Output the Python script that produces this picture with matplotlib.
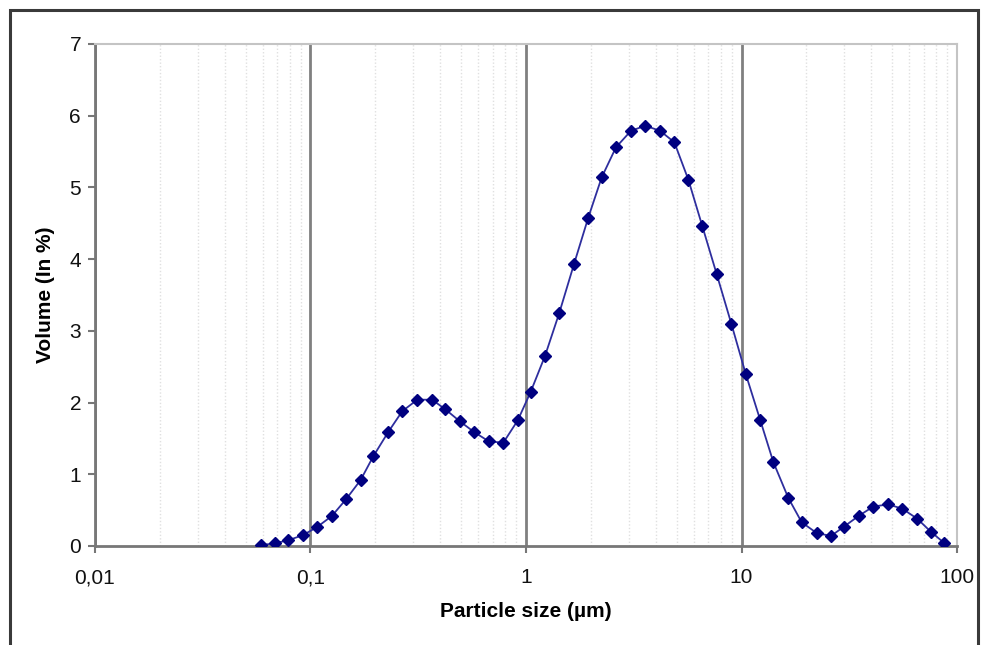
import matplotlib
matplotlib.use("Agg")
import matplotlib.pyplot as plt
from matplotlib.ticker import FixedLocator, FixedFormatter, LogLocator, NullFormatter
from matplotlib.patches import Rectangle

plt.rcParams['font.family'] = ['Liberation Sans', 'DejaVu Sans']

# particle size classes (um) and volume fraction (%)
size_um = [0.0587, 0.0687, 0.0789, 0.0920, 0.1069, 0.1258, 0.1461, 0.1709, 0.1956, 0.2296,
           0.2667, 0.3131, 0.3664, 0.4208, 0.4924, 0.5738, 0.6713, 0.7847, 0.9152, 1.0515,
           1.2252, 1.4272, 1.670, 1.946, 2.245, 2.616, 3.071, 3.578, 4.186, 4.878,
           5.664, 6.579, 7.672, 8.968, 10.46, 12.23, 14.05, 16.49, 19.03, 22.34,
           26.02, 29.89, 34.98, 40.89, 48.00, 55.73, 65.42, 75.51, 87.33]
volume_pct = [0.01, 0.04, 0.08, 0.15, 0.26, 0.42, 0.65, 0.92, 1.25, 1.59,
              1.88, 2.04, 2.04, 1.91, 1.74, 1.59, 1.46, 1.44, 1.75, 2.15,
              2.65, 3.25, 3.93, 4.58, 5.14, 5.56, 5.79, 5.86, 5.79, 5.63,
              5.11, 4.46, 3.79, 3.10, 2.40, 1.75, 1.17, 0.67, 0.33, 0.18,
              0.14, 0.27, 0.42, 0.55, 0.58, 0.52, 0.38, 0.20, 0.04]

x_ticks = [0.01, 0.1, 1, 10, 100]
x_tick_labels = ["0,01", "0,1", "1", "10", "100"]
y_ticks = [0, 1, 2, 3, 4, 5, 6, 7]

fig = plt.figure(figsize=(9.85, 6.45), dpi=100)
ax = fig.add_axes([0.0964, 0.1535, 0.8752, 0.7783])

# outer frame of the chart
fig.patches.append(Rectangle((10 / 985, -0.05), 968 / 985, 1 - 10 / 645 + 0.05,
                             transform=fig.transFigure, fill=False,
                             edgecolor="#3a3a3a", linewidth=2.2, clip_on=False))

ax.set_xscale("log")
ax.set_xlim(0.01, 100)
ax.set_ylim(0, 7)

ax.xaxis.set_major_locator(FixedLocator(x_ticks))
ax.xaxis.set_major_formatter(FixedFormatter(x_tick_labels))
ax.xaxis.set_minor_locator(LogLocator(base=10, subs=range(2, 10)))
ax.xaxis.set_minor_formatter(NullFormatter())
ax.set_yticks(y_ticks)

ax.grid(True, which="minor", axis="x", color="#e0e0e0", linestyle=(0, (1, 1.5)), linewidth=1)
ax.grid(True, which="major", axis="x", color="#808080", linewidth=2)
ax.set_axisbelow(True)

ax.plot(size_um, volume_pct, color="#2e2e9e", linewidth=1.3, marker="D",
        markersize=6, markerfacecolor="#000080", markeredgecolor="#000080", zorder=3)

for side in ["left", "bottom"]:
    ax.spines[side].set_color("#777777")
    ax.spines[side].set_linewidth(2)
for side in ["top", "right"]:
    ax.spines[side].set_color("#c4c4c4")
    ax.spines[side].set_linewidth(1.5)

ax.tick_params(axis="both", which="major", direction="out", length=5, width=1.5,
               color="#777777", labelsize=15, labelcolor="#111111")
ax.tick_params(axis="x", which="minor", length=0)
ax.tick_params(axis="x", which="major", pad=11)
ax.tick_params(axis="y", which="major", pad=5)

ax.set_xlabel("Particle size (µm)", fontsize=15, fontweight="bold", labelpad=11)
ax.set_ylabel("Volume (In %)", fontsize=15, fontweight="bold", labelpad=10)

fig.savefig("out.png", dpi=100)
